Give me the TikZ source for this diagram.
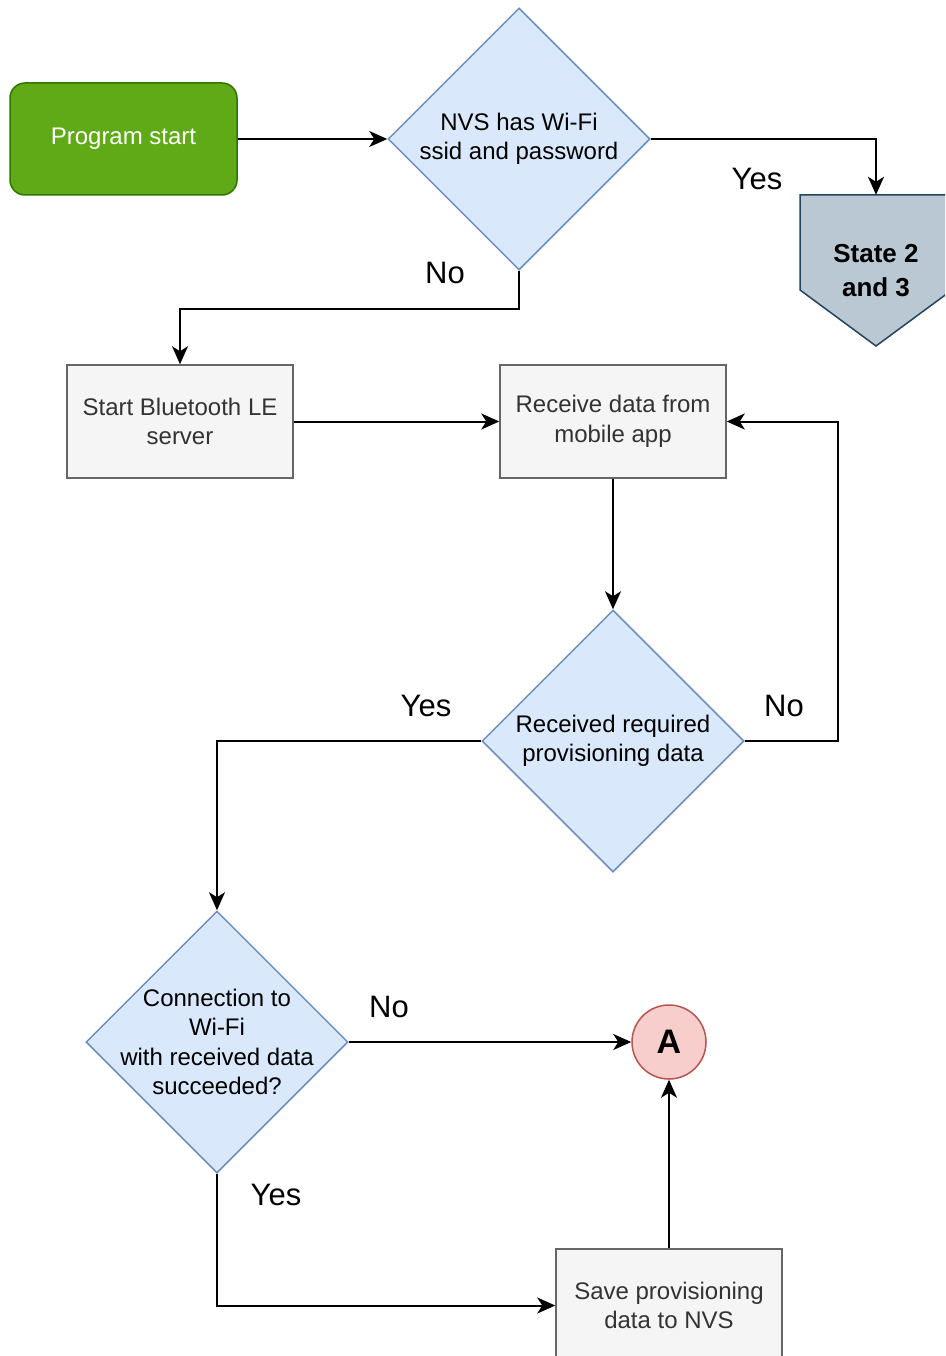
\documentclass[tikz,border=0pt]{standalone}
\usepackage{fontspec}
\setmainfont{Liberation Sans}
\usetikzlibrary{shapes.geometric,arrows.meta}
\definecolor{gfill}{HTML}{60A917}
\definecolor{gline}{HTML}{2D7600}
\definecolor{bfill}{HTML}{DAE8FC}
\definecolor{bline}{HTML}{6C8EBF}
\definecolor{pfill}{HTML}{F5F5F5}
\definecolor{pline}{HTML}{666666}
\definecolor{ptext}{HTML}{333333}
\definecolor{sfill}{HTML}{BAC8D3}
\definecolor{sline}{HTML}{23445D}
\definecolor{rfill}{HTML}{F8CECC}
\definecolor{rline}{HTML}{B85450}
\tikzset{
  startbox/.style={draw=gline, fill=gfill, line width=1.5pt, rounded corners=15pt,
    minimum width=227pt, minimum height=112pt, inner sep=0pt, text=white, align=center,
    font=\fontsize{24}{29.5}\selectfont},
  procbox/.style={draw=pline, fill=pfill, line width=1.5pt,
    minimum width=226pt, minimum height=113pt, inner sep=0pt, text=ptext, align=center,
    font=\fontsize{24}{29.5}\selectfont},
  dia/.style={diamond, draw=bline, fill=bfill, line width=1.5pt, inner sep=0pt,
    minimum width=262pt, minimum height=262pt},
  diatext/.style={align=center, inner sep=0pt, text=black, font=\fontsize{24}{29.5}\selectfont},
  conn/.style={draw=rline, fill=rfill, line width=1.5pt, circle, minimum size=74pt, inner sep=0pt,
    font=\fontsize{34}{40}\selectfont\bfseries},
  lbl/.style={font=\fontsize{31}{36}\selectfont, text=black, inner sep=0pt},
  arr/.style={line width=2pt, -{Stealth[length=18pt, width=16pt, inset=5pt]}},
}
\begin{document}
\begin{tikzpicture}[x=1pt, y=-1pt]
\useasboundingbox (0,0) rectangle (945,1356);
\clip (0,0) rectangle (945,1356);

% nodes
\node[startbox] (start) at (123.5,139) {\raisebox{-3pt}{Program start}};
\node[dia] (d1) at (519,139) {};
\node[diatext] at (d1.center) {NVS has Wi-Fi\\ssid and password};

\draw[draw=sline, fill=sfill, line width=1.5pt] (800,195) -- (952,195) -- (952,290) -- (876,346) -- (800,290) -- cycle;
\node[inner sep=0pt, minimum width=152pt, minimum height=151pt, align=center,
  font=\fontsize{26}{34}\selectfont\bfseries] (s23) at (876,270.5) {State 2\\and 3};

\node[procbox] (b1) at (180,421.5) {Start Bluetooth LE\\server};
\node[procbox] (b2) at (613,421.5) {Receive data from\\mobile app};

\node[dia] (d2) at (613,741) {};
\node[diatext] at (d2.center) {Received required\\provisioning data};

\node[dia] (d3) at (217,1042) {};
\node[diatext] at (d3.center) {Connection to\\Wi-Fi\\with received data\\succeeded?};

\node[conn] (A) at (669,1042) {A};
\node[procbox] (save) at (669,1305.5) {Save provisioning\\data to NVS};

% connectors
\draw[arr] (start.east) -- (d1.west);
\draw[arr] (d1.east) -| (s23.north);
\draw[arr] (d1.south) -- ++(0,38) -| (b1.north);
\draw[arr] (b1.east) -- (b2.west);
\draw[arr] (b2.south) -- (d2.north);
\draw[arr] (d2.east) -- ++(93,0) |- (b2.east);
\draw[arr] (d2.west) -| (d3.north);
\draw[arr] (d3.east) -- (A.west);
\draw[arr] (d3.south) |- (save.west);
\draw[arr] (save.north) -- (A.south);

% labels
\node[lbl] at (757,179) {Yes};
\node[lbl] at (445,273) {No};
\node[lbl] at (784,706) {No};
\node[lbl] at (426,706) {Yes};
\node[lbl] at (389,1007) {No};
\node[lbl] at (276,1195) {Yes};
\end{tikzpicture}
\end{document}
